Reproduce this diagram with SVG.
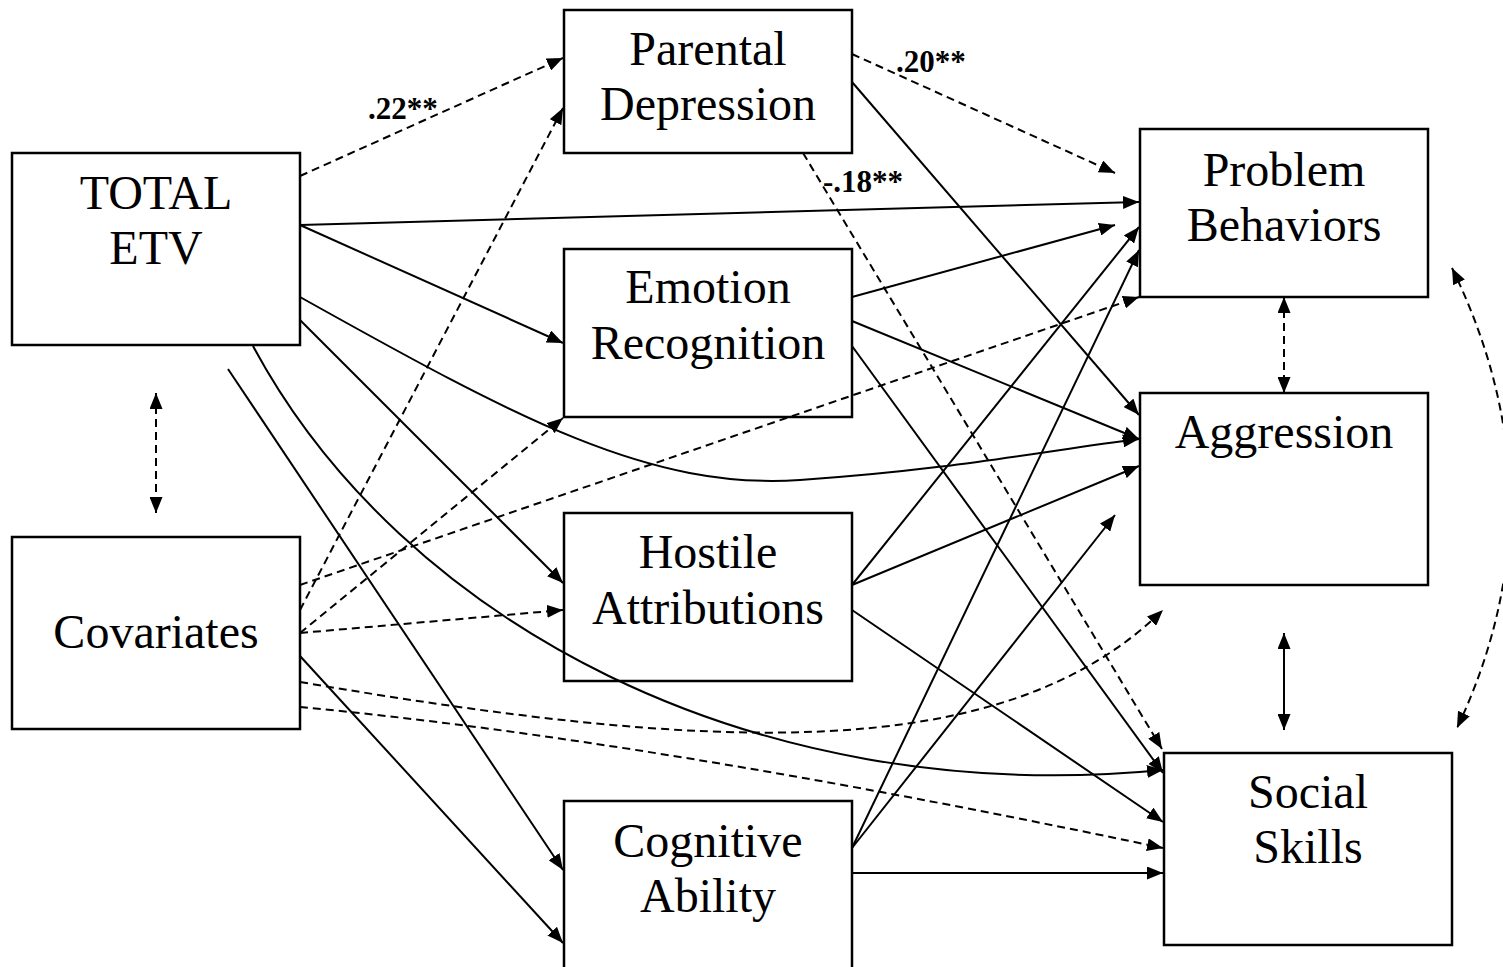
<svg xmlns="http://www.w3.org/2000/svg" width="1503" height="967" viewBox="0 0 1503 967">
<style>
.box{fill:#fff;stroke:#000;stroke-width:2.5}
.t{font-family:"Liberation Serif","Times New Roman",serif;font-size:48px;fill:#000;text-anchor:middle}
.lbl{font-family:"Liberation Serif","Times New Roman",serif;font-size:31px;font-weight:bold;fill:#000}
.s{fill:none;stroke:#000;stroke-width:2;marker-end:url(#ah)}
.d{fill:none;stroke:#000;stroke-width:2;stroke-dasharray:8,5;marker-end:url(#ah)}
.dd{fill:none;stroke:#000;stroke-width:2;stroke-dasharray:8,5;marker-start:url(#ah);marker-end:url(#ah)}
.sd{fill:none;stroke:#000;stroke-width:2;marker-start:url(#ah);marker-end:url(#ah)}
</style>
<defs>
<marker id="ah" viewBox="0 0 16 13" refX="16" refY="6.5" markerWidth="16" markerHeight="13" markerUnits="userSpaceOnUse" orient="auto-start-reverse">
<path d="M0,0 L16,6.5 L0,13 z" fill="#000"/>
</marker>
</defs>
<rect width="1503" height="967" fill="#fff"/>
<g id="nodes">
<g id="total-etv"><rect class="box" x="12" y="153" width="288" height="192"/><text class="t" x="156" y="209">TOTAL</text><text class="t" x="156" y="264">ETV</text></g>
<g id="covariates"><rect class="box" x="12" y="537" width="288" height="192"/><text class="t" x="156" y="648">Covariates</text></g>
<g id="parental-depression"><rect class="box" x="564" y="10" width="288" height="143"/><text class="t" x="708" y="65">Parental</text><text class="t" x="708" y="120">Depression</text></g>
<g id="emotion-recognition"><rect class="box" x="564" y="249" width="288" height="168"/><text class="t" x="708" y="303">Emotion</text><text class="t" x="708" y="359">Recognition</text></g>
<g id="hostile-attributions"><rect class="box" x="564" y="513" width="288" height="168"/><text class="t" x="708" y="568">Hostile</text><text class="t" x="708" y="624">Attributions</text></g>
<g id="cognitive-ability"><rect class="box" x="564" y="801" width="288" height="180"/><text class="t" x="708" y="857">Cognitive</text><text class="t" x="708" y="912">Ability</text></g>
<g id="problem-behaviors"><rect class="box" x="1140" y="129" width="288" height="168"/><text class="t" x="1284" y="186">Problem</text><text class="t" x="1284" y="241">Behaviors</text></g>
<g id="aggression"><rect class="box" x="1140" y="393" width="288" height="192"/><text class="t" x="1284" y="448">Aggression</text></g>
<g id="social-skills"><rect class="box" x="1164" y="753" width="288" height="192"/><text class="t" x="1308" y="808">Social</text><text class="t" x="1308" y="863">Skills</text></g>
</g>
<g id="connectors">
<path class="d" d="M300,176 L563,58"/>
<path class="d" d="M852,54 L1115,173"/>
<path class="d" d="M803,153 L1162,749"/>
<path class="d" d="M300,585 L1139,297"/>
<path class="d" d="M300,610 L563,108"/>
<path class="d" d="M300,633 L563,418"/>
<path class="d" d="M300,633 L563,610"/>
<path class="d" d="M300,682 C700,750 1000,770 1163,610"/>
<path class="d" d="M300,707 Q650,740 1163,848"/>
<path class="dd" d="M1284,297 L1284,393"/>
<path class="dd" d="M156,393 L156,513"/>
<path class="dd" d="M1452,268 Q1565,500 1457,728"/>
<path class="s" d="M300,225 L1139,202"/>
<path class="s" d="M300,225 L563,343"/>
<path class="s" d="M300,297 C520,420 650,490 800,480 C950,470 1050,450 1139,439"/>
<path class="s" d="M300,320 L563,583"/>
<path class="s" d="M253,346 C400,620 750,810 1163,770"/>
<path class="s" d="M228,369 L563,870"/>
<path class="s" d="M300,656 L563,943"/>
<path class="s" d="M852,82 L1139,415"/>
<path class="s" d="M852,297 L1115,225"/>
<path class="s" d="M852,321 L1139,439"/>
<path class="s" d="M852,346 L1163,773"/>
<path class="s" d="M852,585 L1139,227"/>
<path class="s" d="M852,585 L1139,466"/>
<path class="s" d="M852,610 L1163,822"/>
<path class="s" d="M852,848 L1139,250"/>
<path class="s" d="M852,848 L1115,515"/>
<path class="s" d="M852,873 L1163,873"/>
<path class="sd" d="M1284,633 L1284,730"/>
</g>
<g id="labels">
<text class="lbl" x="368" y="119">.22**</text>
<text class="lbl" x="896" y="72">.20**</text>
<text class="lbl" x="823" y="192">-.18**</text>
</g>
</svg>
